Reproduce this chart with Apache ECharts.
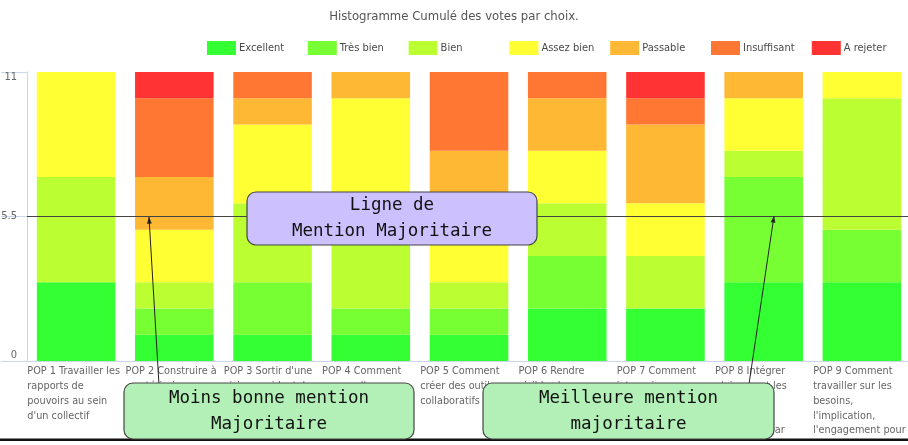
<!DOCTYPE html>
<html>
<head>
<meta charset="utf-8">
<script src="https://cdn.jsdelivr.net/npm/echarts@6/dist/echarts.min.js"></script>
<style>
  html, body { margin: 0; padding: 0; background: #fff; }
  #chart { width: 908px; height: 445px; }
</style>
</head>
<body>
<div id="chart"></div>
<script>
// data (votes per mention, 11 voters)
const categories = [
  "POP 1 Travailler les rapports de pouvoirs au sein d'un collectif",
  "POP 2 Construire à postériori une",
  "POP 3 Sortir d'une vision occidentale",
  "POP 4 Comment passer d'une",
  "POP 5 Comment créer des outils collaboratifs",
  "POP 6 Rendre visibles les",
  "POP 7 Comment interagir",
  "POP 8 Intégrer pleinement les nouvelles personnes accueillies par",
  "POP 9 Comment travailler sur les besoins, l'implication, l'engagement pour"
];
const mentions = ["Excellent", "Très bien", "Bien", "Assez bien", "Passable", "Insuffisant", "A rejeter"];
const excellent   = [3, 1, 1, 1, 1, 2, 2, 3, 3];
const tresBien    = [0, 1, 2, 1, 1, 2, 0, 4, 2];
const bien        = [4, 1, 3, 4, 1, 2, 2, 1, 5];
const assezBien   = [4, 2, 3, 4, 3, 2, 2, 2, 1];
const passable    = [0, 2, 1, 1, 2, 2, 3, 1, 0];
const insuffisant = [0, 3, 1, 0, 3, 1, 1, 0, 0];
const aRejeter    = [0, 1, 0, 0, 0, 0, 1, 0, 0];
const yTicks = [0, 5.5, 11];
const medianLine = 5.5;

const values = [excellent, tresBien, bien, assezBien, passable, insuffisant, aRejeter];
const colors = ["#33ff33", "#77ff33", "#bbff33", "#ffff33", "#ffb833", "#ff7733", "#ff3333"];
const uiFont = "'DejaVu Sans Condensed', 'Liberation Sans Narrow', 'DejaVu Sans', sans-serif";
const noteFont = "'DejaVu Sans Mono', monospace";

const series = mentions.map((name, i) => ({
  name: name,
  type: "bar",
  stack: "votes",
  barCategoryGap: "20%",
  itemStyle: { color: colors[i] },
  data: values[i]
}));
series[series.length - 1].markLine = {
  silent: true,
  symbol: "none",
  label: { show: false },
  lineStyle: { color: "#444", width: 1, type: "solid" },
  data: [{ yAxis: medianLine }]
};

// one legend per mention so every item gets the same slot width
const legends = mentions.map((name, i) => ({
  data: [name],
  left: 207 + i * 100.8,
  top: 41,
  padding: 0,
  itemWidth: 29,
  itemHeight: 14,
  icon: "rect",
  textStyle: { color: "#4a4a4a", fontSize: 11, fontFamily: uiFont, padding: [0, 0, 0, -2] }
}));

// annotation boxes drawn on top of the chart
function noteBox(x, y, w, h, fill, lines) {
  return [
    { type: "rect", z: 100, shape: { x: x, y: y, width: w, height: h, r: 9 },
      style: { fill: fill, stroke: "#444", lineWidth: 1.2 } },
    { type: "text", z: 101, x: x + w / 2, y: y + h / 2,
      style: { text: lines.join("\n"), align: "center", verticalAlign: "middle",
               font: "17.5px " + noteFont, lineHeight: 26, fill: "#111" } }
  ];
}
function arrow(x1, y1, x2, y2) {
  const a = Math.atan2(y2 - y1, x2 - x1), s = 7;
  return [
    { type: "line", z: 99, shape: { x1: x1, y1: y1, x2: x2, y2: y2 }, style: { stroke: "#222", lineWidth: 1 } },
    { type: "polygon", z: 99, shape: { points: [
        [x2, y2],
        [x2 - s * Math.cos(a - 0.35), y2 - s * Math.sin(a - 0.35)],
        [x2 - s * Math.cos(a + 0.35), y2 - s * Math.sin(a + 0.35)]
      ] }, style: { fill: "#222" } }
  ];
}

const chart = echarts.init(document.getElementById("chart"));
chart.setOption({
  animation: false,
  title: {
    text: "Histogramme Cumulé des votes par choix.",
    left: "center",
    top: 5,
    textStyle: { color: "#555", fontSize: 13, fontWeight: "normal", fontFamily: uiFont }
  },
  legend: legends,
  grid: { left: 27, right: -3, top: 72, bottom: 84, outerBoundsMode: "none" },
  xAxis: {
    type: "category",
    data: categories,
    axisLine: { lineStyle: { color: "#ccd6eb" } },
    axisTick: { show: false },
    axisLabel: {
      interval: 0,
      margin: 3,
      width: 97.5,
      overflow: "break",
      align: "center",
      verticalAlign: "top",
      lineHeight: 14.8,
      formatter: (v) => "{a|" + v + "}",
      rich: {
        a: { align: "left", color: "#666", fontSize: 10.8, lineHeight: 14.8, fontFamily: uiFont }
      }
    }
  },
  yAxis: {
    type: "value",
    min: yTicks[0],
    max: yTicks[yTicks.length - 1],
    interval: yTicks[1] - yTicks[0],
    splitLine: { show: false },
    axisLine: { show: true, lineStyle: { color: "#ccd6eb" } },
    axisTick: { show: true, length: 26, lineStyle: { color: "#ccd6eb" } },
    axisLabel: {
      color: "#666",
      fontSize: 11,
      fontFamily: uiFont,
      margin: 10,
      verticalAlignMaxLabel: "top",
      verticalAlignMinLabel: "bottom"
    }
  },
  series: series,
  graphic: [
    { type: "rect", z: 90, shape: { x: 0, y: 438.5, width: 908, height: 2.5 }, style: { fill: "#111" } }
  ].concat(
    arrow(159, 385, 149, 217),
    arrow(749, 384, 774, 216),
    noteBox(247, 192, 290, 53, "#ccc0ff", ["Ligne de", "Mention Majoritaire"]),
    noteBox(124, 383, 290, 56, "#b3f0b8", ["Moins bonne mention", "Majoritaire"]),
    noteBox(483, 383, 291, 56, "#b3f0b8", ["Meilleure mention", "majoritaire"])
  )
});
</script>
</body>
</html>
